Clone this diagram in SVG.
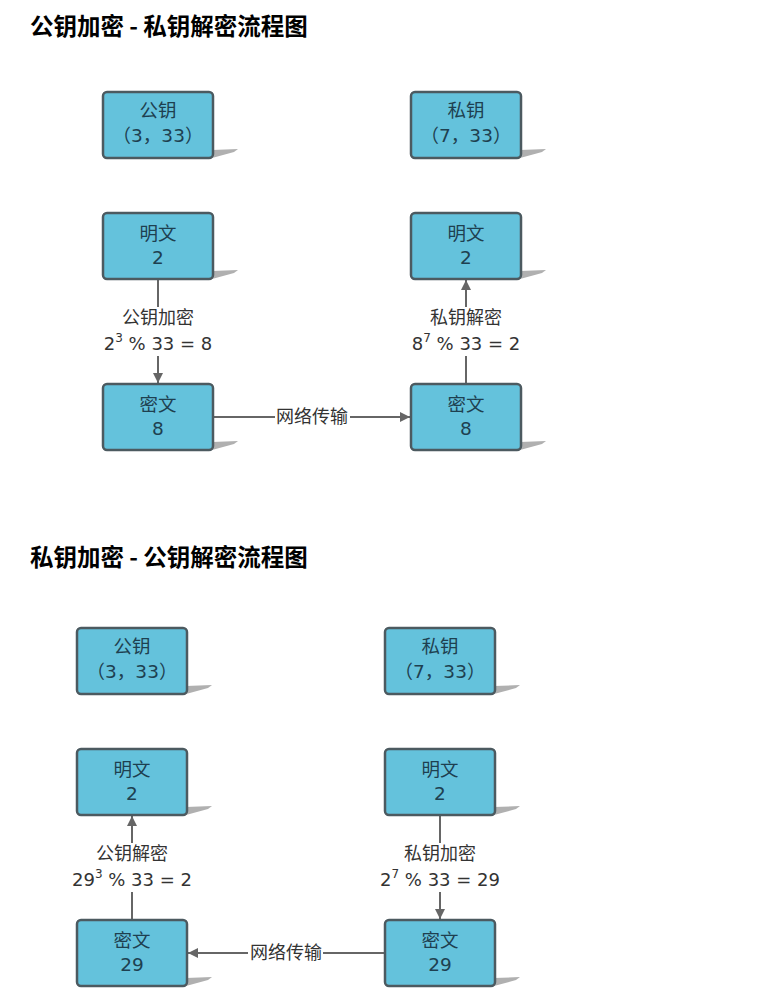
<svg xmlns="http://www.w3.org/2000/svg" width="772" height="994" viewBox="0 0 772 994">
<style>
.title{font-family:"Noto Sans CJK SC","Liberation Sans",sans-serif;font-weight:bold;font-size:23.5px;fill:#000}
.box{fill:#64c2dc;stroke:#4c5a60;stroke-width:2.5}
.sh{fill:#b0b0b0}
.bt{font-family:"DejaVu Sans","Noto Sans CJK SC",sans-serif;font-size:18.5px;fill:#1e4050;text-anchor:middle}
.lbl{font-family:"DejaVu Sans","Noto Sans CJK SC",sans-serif;font-size:18px;fill:#333;text-anchor:middle}
.cn{stroke:#666;stroke-width:2;fill:none}
</style>
<defs>
<marker id="ah" viewBox="0 0 10 10" refX="10" refY="5" markerWidth="5" markerHeight="5" orient="auto-start-reverse" markerUnits="strokeWidth">
<path d="M0,0 L10,5 L0,10 z" fill="#666"/>
</marker>
<g id="shadow"><polygon class="sh" points="0,0 26,-1 22,2 0,8"/></g>
</defs>
<rect width="772" height="994" fill="#fff"/>
<text class="title" x="30" y="35">公钥加密 - 私钥解密流程图</text>
<text class="title" x="30" y="566">私钥加密 - 公钥解密流程图</text>

<g id="connectors">
<line class="cn" x1="158" y1="280" x2="158" y2="307"/>
<line class="cn" x1="158" y1="356" x2="158" y2="383" marker-end="url(#ah)"/>
<line class="cn" x1="466" y1="383" x2="466" y2="356"/>
<line class="cn" x1="466" y1="307" x2="466" y2="280" marker-end="url(#ah)"/>
<line class="cn" x1="214" y1="417" x2="275" y2="417"/>
<line class="cn" x1="350" y1="417" x2="410" y2="417" marker-end="url(#ah)"/>
<text class="lbl" x="158" y="324">公钥加密</text>
<text class="lbl" x="158" y="350">2<tspan font-size="12" dy="-8">3</tspan><tspan dy="8"> % 33 = 8</tspan></text>
<text class="lbl" x="466" y="324">私钥解密</text>
<text class="lbl" x="466" y="350">8<tspan font-size="12" dy="-8">7</tspan><tspan dy="8"> % 33 = 2</tspan></text>
<text class="lbl" x="312" y="423">网络传输</text>

<line class="cn" x1="132" y1="919" x2="132" y2="892"/>
<line class="cn" x1="132" y1="843" x2="132" y2="816" marker-end="url(#ah)"/>
<line class="cn" x1="440" y1="816" x2="440" y2="843"/>
<line class="cn" x1="440" y1="892" x2="440" y2="919" marker-end="url(#ah)"/>
<line class="cn" x1="384" y1="953" x2="323" y2="953"/>
<line class="cn" x1="248" y1="953" x2="188" y2="953" marker-end="url(#ah)"/>
<text class="lbl" x="132" y="860">公钥解密</text>
<text class="lbl" x="132" y="886">29<tspan font-size="12" dy="-8">3</tspan><tspan dy="8"> % 33 = 2</tspan></text>
<text class="lbl" x="440" y="860">私钥加密</text>
<text class="lbl" x="440" y="886">2<tspan font-size="12" dy="-8">7</tspan><tspan dy="8"> % 33 = 29</tspan></text>
<text class="lbl" x="286" y="959">网络传输</text>
</g>

<g id="pub1"><use href="#shadow" x="212" y="150"/><rect class="box" x="103" y="92" width="110" height="66" rx="4"/><text class="bt" x="158" y="117">公钥</text><text class="bt" x="158" y="142">（3，33）</text></g>
<g id="priv1"><use href="#shadow" x="520" y="150"/><rect class="box" x="411" y="92" width="110" height="66" rx="4"/><text class="bt" x="466" y="117">私钥</text><text class="bt" x="466" y="142">（7，33）</text></g>
<g id="plain1"><use href="#shadow" x="212" y="271"/><rect class="box" x="103" y="213" width="110" height="66" rx="4"/><text class="bt" x="158" y="240">明文</text><text class="bt" x="158" y="264">2</text></g>
<g id="plain2"><use href="#shadow" x="520" y="271"/><rect class="box" x="411" y="213" width="110" height="66" rx="4"/><text class="bt" x="466" y="240">明文</text><text class="bt" x="466" y="264">2</text></g>
<g id="cipher1"><use href="#shadow" x="212" y="442"/><rect class="box" x="103" y="384" width="110" height="66" rx="4"/><text class="bt" x="158" y="411">密文</text><text class="bt" x="158" y="435">8</text></g>
<g id="cipher2"><use href="#shadow" x="520" y="442"/><rect class="box" x="411" y="384" width="110" height="66" rx="4"/><text class="bt" x="466" y="411">密文</text><text class="bt" x="466" y="435">8</text></g>

<g id="pub2"><use href="#shadow" x="186" y="686"/><rect class="box" x="77" y="628" width="110" height="66" rx="4"/><text class="bt" x="132" y="653">公钥</text><text class="bt" x="132" y="678">（3，33）</text></g>
<g id="priv2"><use href="#shadow" x="494" y="686"/><rect class="box" x="385" y="628" width="110" height="66" rx="4"/><text class="bt" x="440" y="653">私钥</text><text class="bt" x="440" y="678">（7，33）</text></g>
<g id="plain3"><use href="#shadow" x="186" y="807"/><rect class="box" x="77" y="749" width="110" height="66" rx="4"/><text class="bt" x="132" y="776">明文</text><text class="bt" x="132" y="800">2</text></g>
<g id="plain4"><use href="#shadow" x="494" y="807"/><rect class="box" x="385" y="749" width="110" height="66" rx="4"/><text class="bt" x="440" y="776">明文</text><text class="bt" x="440" y="800">2</text></g>
<g id="cipher3"><use href="#shadow" x="186" y="978"/><rect class="box" x="77" y="920" width="110" height="66" rx="4"/><text class="bt" x="132" y="947">密文</text><text class="bt" x="132" y="971">29</text></g>
<g id="cipher4"><use href="#shadow" x="494" y="978"/><rect class="box" x="385" y="920" width="110" height="66" rx="4"/><text class="bt" x="440" y="947">密文</text><text class="bt" x="440" y="971">29</text></g>
</svg>
